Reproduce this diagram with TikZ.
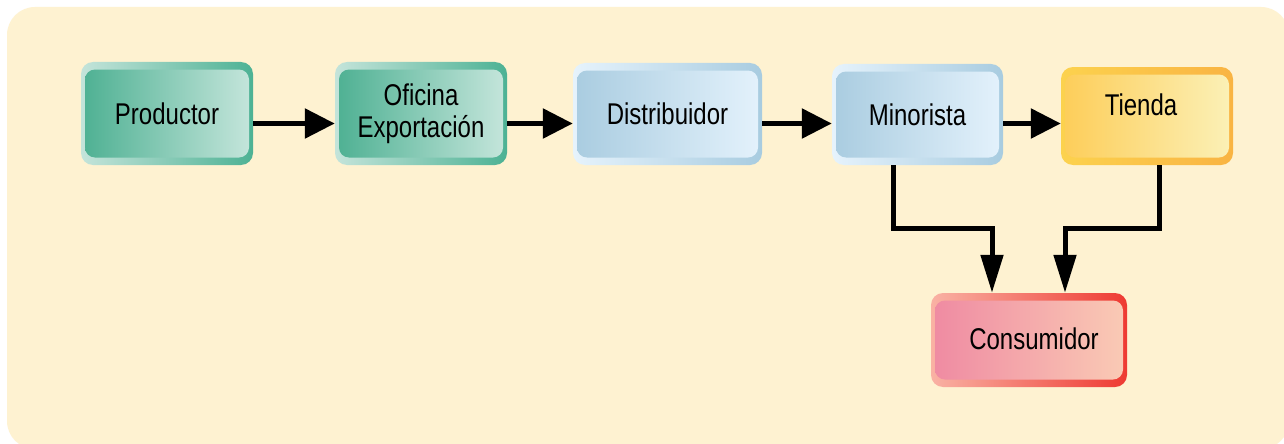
\documentclass[tikz,border=0pt]{standalone}
\usepackage{fontspec}
\setmainfont{Liberation Sans}[FakeStretch=0.8]
\usetikzlibrary{arrows.meta}

\definecolor{paper}{HTML}{FEF2D1}
% green boxes
\definecolor{gOutL}{HTML}{C4E4DA}
\definecolor{gOutR}{HTML}{4DB294}
\definecolor{gInL}{HTML}{4DB092}
\definecolor{gInR}{HTML}{C6E6DC}
% blue boxes
\definecolor{bOutL}{HTML}{E6F3FC}
\definecolor{bOutR}{HTML}{A8CCE0}
\definecolor{bInL}{HTML}{A9CCE0}
\definecolor{bInR}{HTML}{E4F2FC}
% yellow box
\definecolor{yOutL}{HTML}{FCD24E}
\definecolor{yOutR}{HTML}{F9B443}
\definecolor{yInL}{HTML}{FDCD58}
\definecolor{yInR}{HTML}{FBF1B8}
% pink box
\definecolor{pOutL}{HTML}{F9B2A4}
\definecolor{pOutR}{HTML}{EE3A32}
\definecolor{pInL}{HTML}{EF8AA2}
\definecolor{pInR}{HTML}{FACBB5}

\tikzset{
  boxbase/.style={rounded corners=12pt, inner sep=0pt, align=center,
    font=\fontsize{30}{32}\selectfont},
  innershade/.style 2 args={path picture={
    \shade[rounded corners=10pt, left color=#1, right color=#2]
      ([shift={(4pt,-7.5pt)}]path picture bounding box.north west) rectangle
      ([shift={(-4pt,7.5pt)}]path picture bounding box.south east);}},
  greenbox/.style={boxbase, left color=gOutL, right color=gOutR, innershade={gInL}{gInR}},
  bluebox/.style={boxbase, left color=bOutL, right color=bOutR, innershade={bInL}{bInR}},
  yellowbox/.style={boxbase, left color=yOutL, right color=yOutR, innershade={yInL}{yInR}},
  pinkbox/.style={boxbase, left color=pOutL, right color=pOutR, innershade={pInL}{pInR}},
  harrow/.style={line width=5.5pt, -{Triangle[length=30pt,width=29pt]}},
  varrow/.style={line width=5pt, line join=miter, -{Triangle[length=38pt,width=22pt]}},
}

\begin{document}
\begin{tikzpicture}[x=1pt, y=-1pt]
  \useasboundingbox (0,0) rectangle (1284,444);
  \clip (0,0) rectangle (1284,444);
  \fill[white] (0,0) rectangle (1284,444);
  \fill[paper, rounded corners=28pt] (7,7) rectangle (1289,449);

  \node[greenbox, minimum width=172pt, minimum height=103pt] (prod) at (167,113.5) {Productor};
  \node[greenbox, minimum width=172pt, minimum height=103pt] (ofic) at (421,113.5) {Oficina\\Exportación};
  \node[bluebox, minimum width=189pt, minimum height=102pt] (dist) at (667.5,114) {Distribuidor};
  \node[bluebox, minimum width=171pt, minimum height=101pt] (mino) at (917.5,114.5) {Minorista};
  \node[yellowbox, minimum width=172pt, minimum height=98pt] (tien) at (1147,116)
    {\hspace*{-12pt}\raisebox{8pt}[0.7em][0.2em]{Tienda}};
  \node[pinkbox, minimum width=196pt, minimum height=94pt] (cons) at (1029,340)
    {\hspace*{10pt}\raisebox{3pt}{Consumidor}};

  \coordinate (row) at (0,123.5);
  \coordinate (lane) at (0,228);

  \draw[harrow] (prod.east |- row) -- (ofic.west |- row);
  \draw[harrow] (ofic.east |- row) -- (dist.west |- row);
  \draw[harrow] (dist.east |- row) -- (mino.west |- row);
  \draw[harrow] (mino.east |- row) -- (tien.west |- row);

  \draw[varrow] ([xshift=-24pt]mino.south) |- ([xshift=-37pt]cons.north |- lane)
    -- ([xshift=-37pt]cons.north);
  \draw[varrow] ([xshift=12pt]tien.south) |- ([xshift=36pt]cons.north |- lane)
    -- ([xshift=36pt]cons.north);
\end{tikzpicture}
\end{document}
